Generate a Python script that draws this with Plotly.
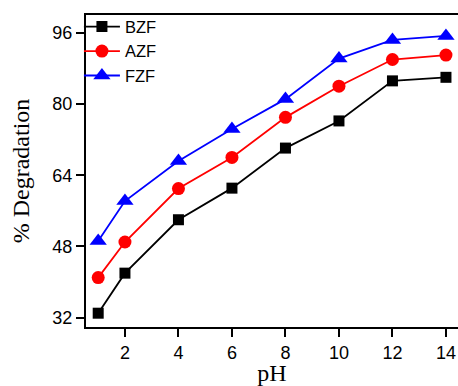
import plotly.graph_objects as go

ph = [1, 2, 4, 6, 8, 10, 12, 14]
bzf = [33.0, 42.0, 54.0, 61.1, 70.1, 76.2, 85.2, 86.0]
azf = [41.0, 49.0, 61.0, 68.0, 77.0, 84.0, 90.0, 91.0]
fzf = [49.2, 58.2, 67.2, 74.4, 81.1, 90.2, 94.4, 95.3]
yticks = [32, 48, 64, 80, 96]
xticks = [2, 4, 6, 8, 10, 12, 14]

fig = go.Figure()
fig.add_trace(go.Scatter(x=ph, y=bzf, name="BZF", mode="lines+markers",
                         line=dict(color="black", width=1.8),
                         marker=dict(symbol="square", size=11, color="black")))
fig.add_trace(go.Scatter(x=ph, y=azf, name="AZF", mode="lines+markers",
                         line=dict(color="red", width=1.8),
                         marker=dict(symbol="circle", size=13, color="red")))
fig.add_trace(go.Scatter(x=ph, y=fzf, name="FZF", mode="lines+markers",
                         line=dict(color="blue", width=1.8),
                         marker=dict(symbol="triangle-up", size=15, color="blue")))

fig.update_layout(
    width=458, height=386,
    margin=dict(l=86, r=0, t=15, b=59),
    paper_bgcolor="white", plot_bgcolor="white",
    showlegend=True,
    legend=dict(x=-0.019, y=1.018, xanchor="left", yanchor="top",
                bgcolor="rgba(0,0,0,0)", borderwidth=0,
                font=dict(family="Liberation Sans, Arial", size=16.5, color="black"),
                tracegroupgap=0, itemwidth=36),
    xaxis=dict(range=[0.544, 14.45], tickvals=xticks, ticks="outside", ticklen=8,
               tickwidth=1.5, tickcolor="black", showline=True, linecolor="black",
               linewidth=2, mirror=True, showgrid=False, zeroline=False,
               tickfont=dict(family="Liberation Sans, Arial", size=18, color="black"),
               title=dict(text="pH", standoff=2,
                          font=dict(family="Liberation Serif, Times New Roman", size=24, color="black"))),
    yaxis=dict(range=[29.9, 100], tickvals=yticks, ticks="outside", ticklen=8,
               tickwidth=1.5, tickcolor="black", showline=True, linecolor="black",
               linewidth=2, mirror=False, showgrid=False, zeroline=False,
               tickfont=dict(family="Liberation Sans, Arial", size=18, color="black"),
               title=dict(text="% Degradation", standoff=16,
                          font=dict(family="Liberation Serif, Times New Roman", size=24, color="black"))),
)

fig.write_html("out.html")
